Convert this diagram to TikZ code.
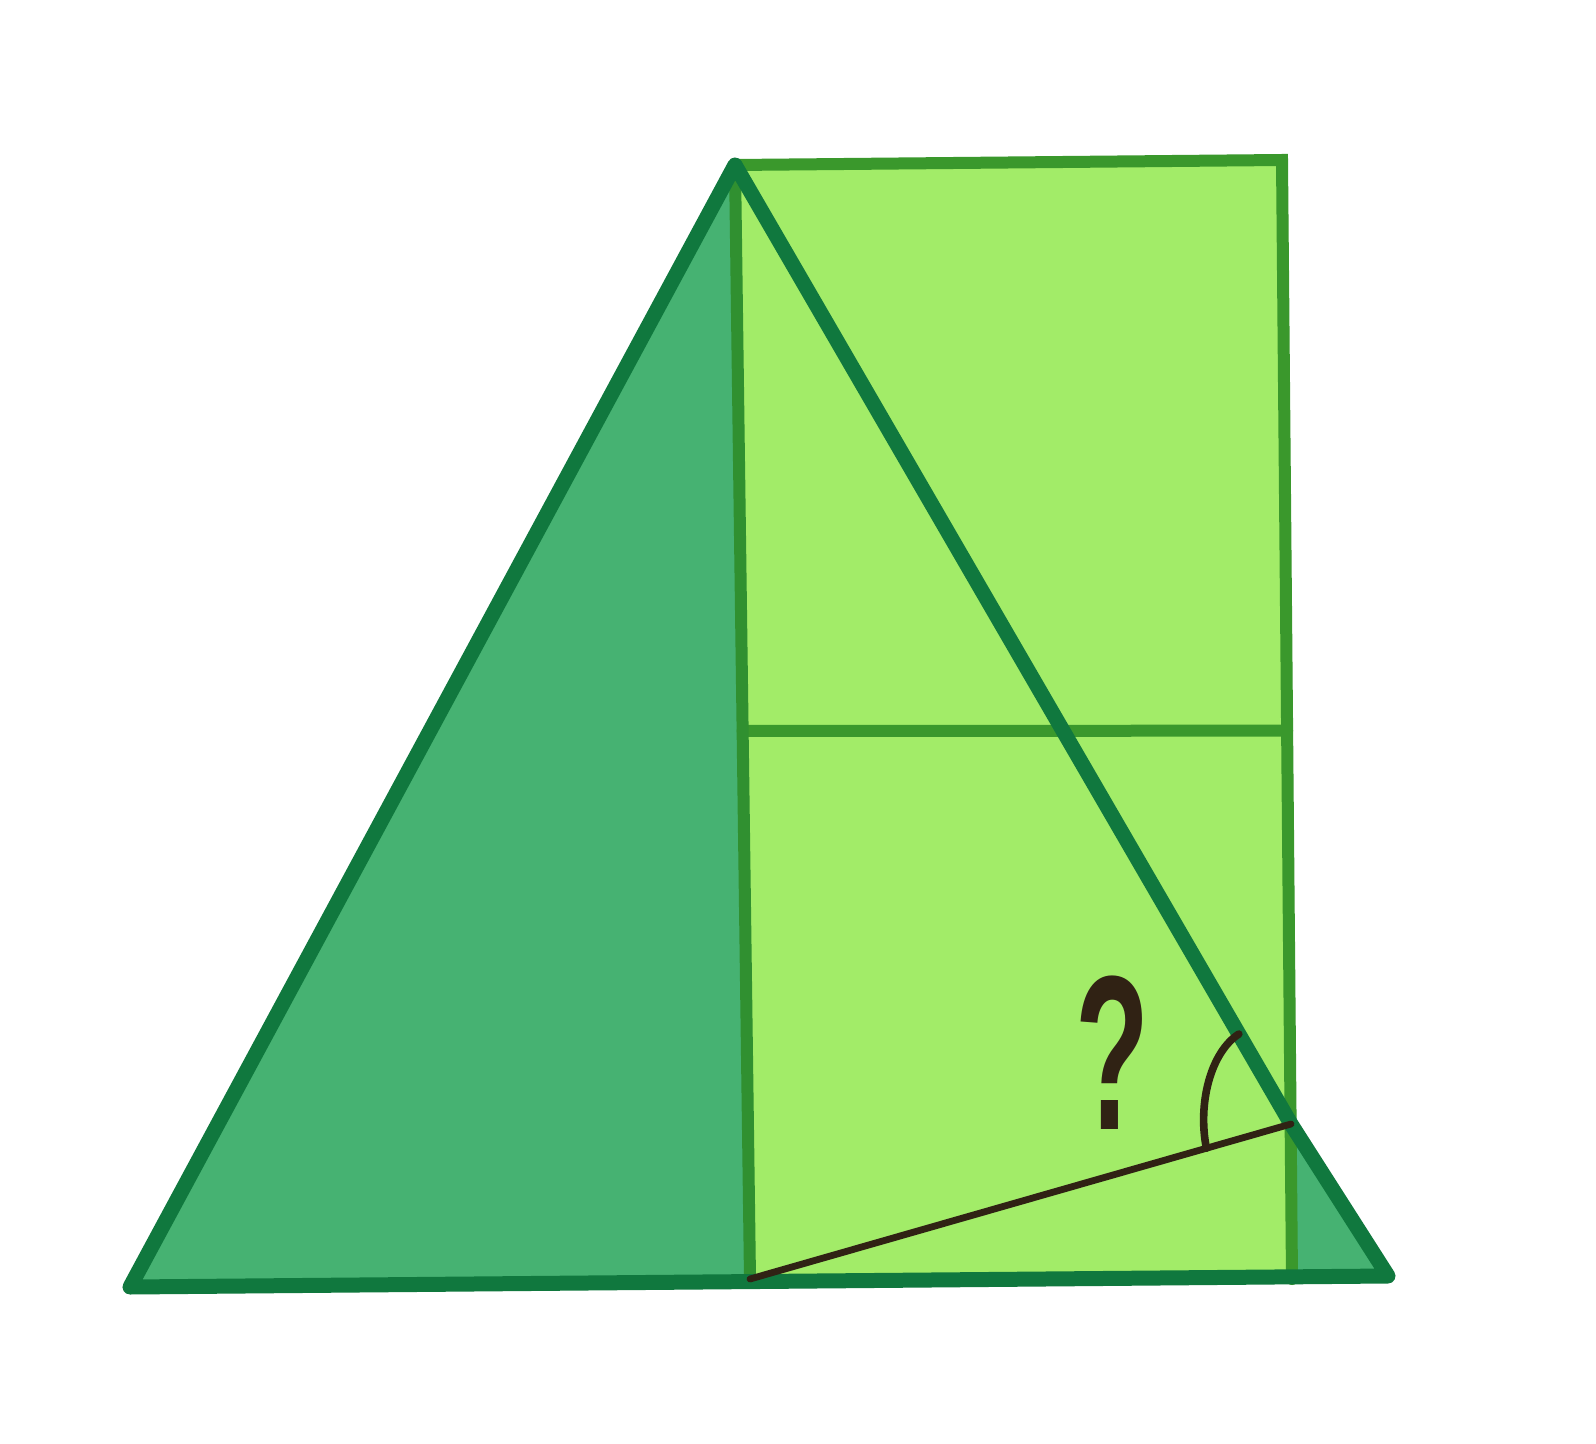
\documentclass[tikz,border=0pt]{standalone}
\usepackage{fontspec}
\newfontfamily\qfont{Liberation Sans}
\usetikzlibrary{calc}
\definecolor{darkfill}{RGB}{70,178,114}
\definecolor{lightfill}{RGB}{162,236,104}
\definecolor{edgegreen}{RGB}{16,120,62}
\definecolor{rectedge}{RGB}{58,152,44}
\definecolor{ink}{RGB}{48,34,20}
\begin{document}
\begin{tikzpicture}[x=0.5pt,y=-0.5pt,
  tri/.style={draw=edgegreen,line width=7.5pt,line join=round,line cap=round},
  rectline/.style={draw=rectedge,line width=6pt,line cap=round},
  inkline/.style={draw=ink,line width=3.4pt,line cap=round}]
\fill[white] (0,0) rectangle (1596,1444);
\useasboundingbox (0,0) rectangle (1596,1444);
\coordinate (A) at (735,165);
\coordinate (B) at (130,1287);
\coordinate (C) at (1388,1276);
\coordinate (D) at (750,1279);
\coordinate (R1) at (1282,160);
\coordinate (R2) at (1292,1279);
\coordinate (E) at (1291,1124);
\coordinate (M1) at ($(A)!0.508!(D)$);
\coordinate (M2) at ($(R1)!0.51!(R2)$);
% ends of the angle mark
\coordinate (P1) at ($(E)!44pt!(D)$);
\coordinate (P2) at ($(E)!52pt!(A)$);
% fills
\fill[lightfill] (A) -- (R1) -- (R2) -- (D) -- cycle;
\fill[darkfill] (A) -- (B) -- (D) -- cycle;
\fill[darkfill] (E) -- (R2) -- (C) -- cycle;
% rectangle lines
\draw[rectline] (A) -- (R1) -- (R2);
\draw[rectline] (M1) -- (M2);
\draw[rectline,draw=rectedge!75!edgegreen] (A) -- (D);
% triangle
\draw[tri] (A) -- (B) -- (C) -- (E) -- cycle;
% black line and angle mark
\draw[inkline] (D) -- (E);
\draw[inkline,line width=3.8pt] (P1) .. controls ($(P1)+(-9,-45)$) and ($(P2)+(-28,18)$) .. (P2);
\node[text=ink,font=\qfont\bfseries\fontsize{110}{110}\selectfont,xscale=0.55,inner sep=0] (q) at (1112,1053) {?};
\end{tikzpicture}
\end{document}
